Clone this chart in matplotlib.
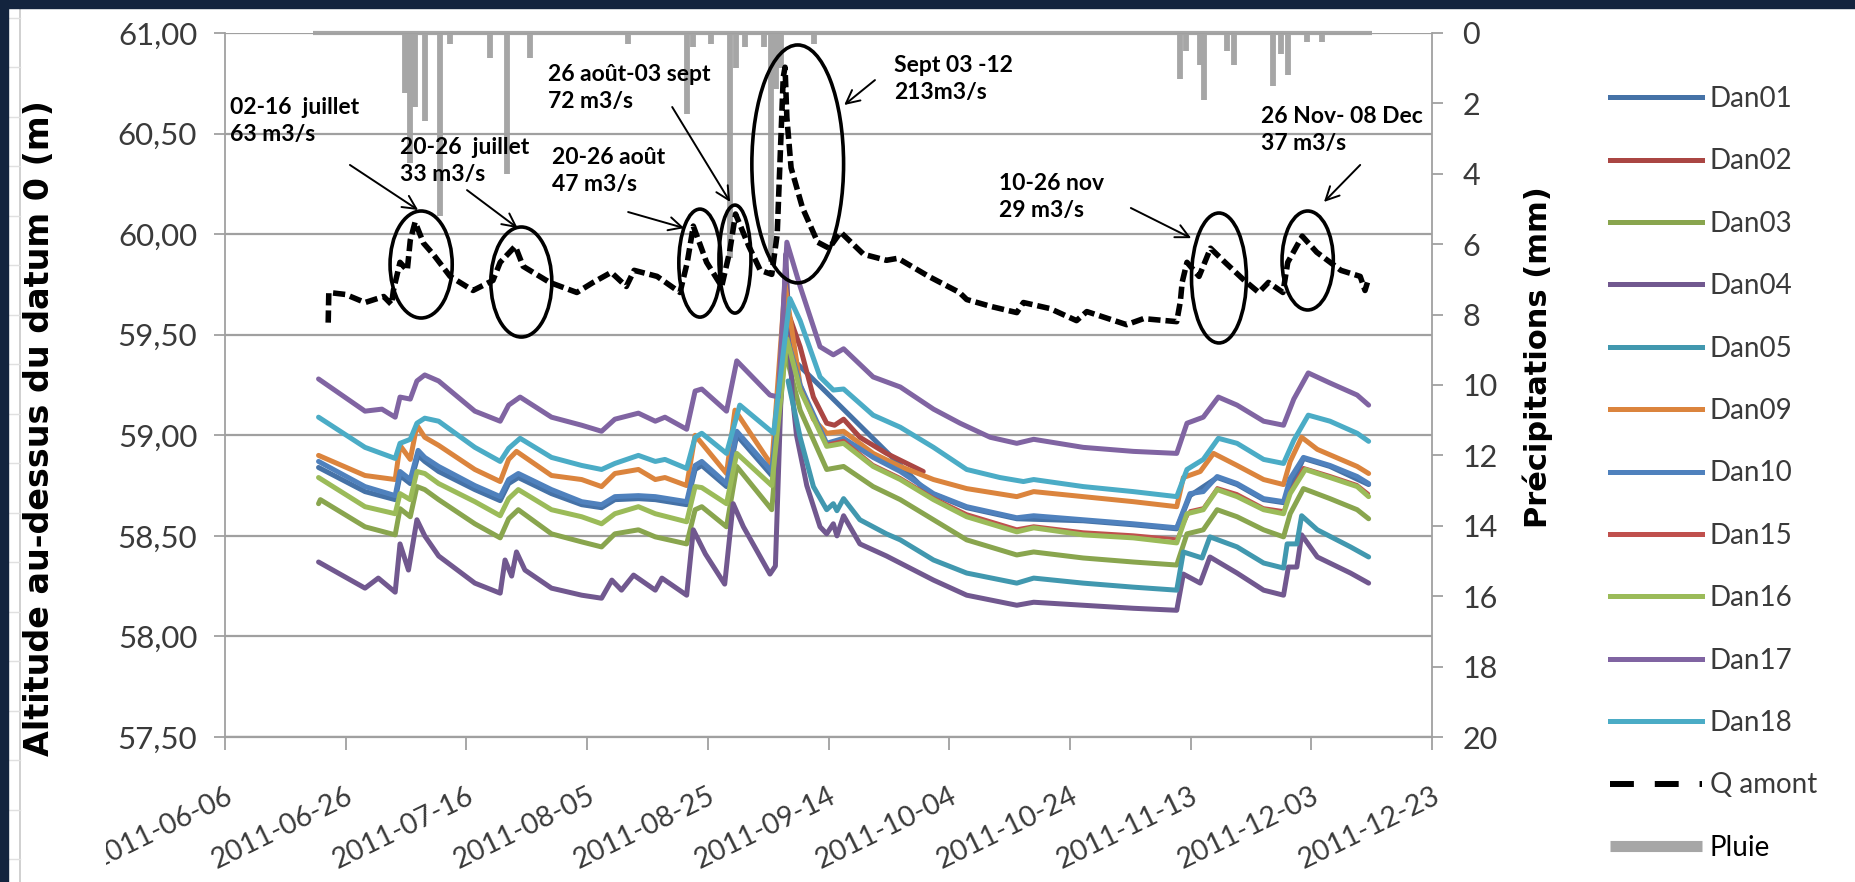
import numpy as np
import pandas as pd
import matplotlib
matplotlib.use('agg')
import matplotlib.pyplot as plt
import matplotlib.dates as mdates
from matplotlib.patches import Ellipse, Rectangle
from matplotlib.lines import Line2D
from matplotlib.ticker import FuncFormatter, MultipleLocator
from matplotlib.transforms import Bbox, TransformedBbox

plt.rcParams['font.family'] = ['Lato', 'DejaVu Sans']

origine = pd.Timestamp('2011-06-06')

# jours depuis le 2011-06-06 / altitude (m)
dan01_j = [15.5, 23.2, 28.2, 29, 30.7, 32, 33.1, 35.4, 41.4, 45.6, 47, 48.6, 54.1, 59.1, 62.4, 64.6,
           68.5, 71.3, 76.5, 77.9, 79, 83.1, 84.8, 90.6, 93, 94.7, 116.3, 122.9, 131.2, 142.2, 150.5,
           157.7, 159.9, 164.4, 167.7, 172.1, 175.4, 178.7, 183.1, 189.5]
dan01_z = [58.84, 58.72, 58.68, 58.80, 58.76, 58.90, 58.87, 58.82, 58.73, 58.675, 58.76, 58.79, 58.71,
           58.655, 58.64, 58.68, 58.685, 58.68, 58.655, 58.83, 58.85, 58.745, 59.0, 58.80, 59.55, 59.36,
           58.72, 58.64, 58.585, 58.575, 58.555, 58.535, 58.70, 58.79, 58.755, 58.68, 58.665, 58.885,
           58.845, 58.755]

dan02_j = [93.3, 95.3, 97.5, 99.7, 101, 102.5, 105.2, 109.6, 115.7]
dan02_z = [59.61, 59.44, 59.19, 59.06, 59.05, 59.08, 58.99, 58.91, 58.82]

dan03_j = [15.5, 15.8, 23.2, 28.2, 29, 30.7, 31.8, 33.1, 35.4, 41.4, 45.6, 47, 48.6, 54.1, 59.1, 62.4,
           64.6, 68.5, 71.3, 76.5, 77.9, 79, 83.1, 84.8, 90.6, 92.8, 95.3, 99.7, 102.5, 107.4, 111.9,
           117.4, 122.9, 131.2, 134, 142.2, 150.5, 157.7, 159.4, 162.1, 164.4, 167.7, 172.1, 175.4,
           176.5, 178.7, 183.1, 187.6, 189.5]
dan03_z = [58.66, 58.68, 58.545, 58.505, 58.635, 58.595, 58.745, 58.73, 58.68, 58.56, 58.49, 58.585,
           58.63, 58.51, 58.47, 58.445, 58.51, 58.53, 58.495, 58.46, 58.63, 58.645, 58.545, 58.845,
           58.63, 59.42, 59.125, 58.83, 58.845, 58.745, 58.68, 58.58, 58.48, 58.405, 58.42, 58.39,
           58.37, 58.355, 58.51, 58.53, 58.63, 58.595, 58.53, 58.495, 58.61, 58.735, 58.685, 58.63,
           58.585]

dan04_j = [15.5, 23.2, 25.4, 28.2, 29, 30.4, 31.8, 33.1, 35.4, 41.4, 45.6, 46.4, 47.5, 48.3, 49.7,
           54.1, 59.1, 62.4, 64.1, 65.7, 67.7, 71.3, 72.4, 76.5, 77.6, 79.6, 82.8, 84.2, 85.9, 90.3,
           91.2, 92.9, 94.0, 94.7, 96.4, 98.6, 99.7, 100.8, 101.4, 102.5, 105.2, 109.6, 117.4, 122.9,
           131.2, 134, 142.2, 150.5, 157.7, 158.8, 161.6, 163.2, 167.7, 172.1, 175.4, 176.2, 177.6,
           178.4, 181, 186.5, 189.5]
dan04_z = [58.37, 58.24, 58.29, 58.22, 58.46, 58.33, 58.58, 58.50, 58.40, 58.265, 58.215, 58.38, 58.30,
           58.42, 58.33, 58.24, 58.205, 58.19, 58.28, 58.23, 58.305, 58.23, 58.29, 58.205, 58.53, 58.41,
           58.26, 58.66, 58.545, 58.31, 58.35, 59.90, 59.2, 59.0, 58.75, 58.545, 58.51, 58.56, 58.50,
           58.60, 58.46, 58.40, 58.28, 58.205, 58.155, 58.17, 58.155, 58.14, 58.13, 58.31, 58.265,
           58.395, 58.315, 58.23, 58.205, 58.345, 58.345, 58.505, 58.395, 58.315, 58.265]

dan05_j = [93.3, 95.3, 97.5, 99.7, 100.8, 101.4, 102.5, 105.2, 109.6, 111.9, 117.4, 122.9, 131.2, 134,
           142.2, 150.5, 157.7, 158.8, 161.9, 163.2, 167.7, 172.1, 175.4, 176, 177.6, 178.4, 181, 186.5,
           189.5]
dan05_z = [59.27, 58.99, 58.745, 58.63, 58.66, 58.625, 58.685, 58.58, 58.51, 58.48, 58.38, 58.315,
           58.265, 58.29, 58.265, 58.245, 58.23, 58.42, 58.39, 58.495, 58.445, 58.365, 58.34, 58.46,
           58.46, 58.60, 58.53, 58.445, 58.395]

dan09_j = [15.5, 23.2, 28.2, 29, 30.7, 31.8, 33.1, 35.4, 41.4, 45.6, 47, 48.3, 54.1, 59.1, 62.4, 64.6,
           68.5, 71.3, 72.9, 76.5, 77.9, 79, 83.1, 84.5, 90.6, 92.8, 95.3, 97.5, 99.7, 102.5, 107.4,
           111.9, 117.4, 122.9, 131.2, 134, 142.2, 150.5, 157.7, 158.8, 161.6, 163.8, 167.7, 172.1,
           175.4, 176.5, 178.4, 181, 187.6, 189.5]
dan09_z = [58.90, 58.80, 58.78, 58.95, 58.88, 59.05, 58.99, 58.95, 58.83, 58.77, 58.88, 58.92, 58.80,
           58.78, 58.745, 58.81, 58.83, 58.78, 58.79, 58.75, 59.0, 58.96, 58.81, 59.125, 58.85, 59.75,
           59.25, 59.08, 59.01, 59.02, 58.91, 58.845, 58.78, 58.735, 58.695, 58.72, 58.695, 58.67,
           58.645, 58.79, 58.82, 58.91, 58.85, 58.78, 58.755, 58.87, 58.99, 58.93, 58.845, 58.81]

dan10_j = [15.5, 23.2, 28.2, 29, 30.7, 32, 33.1, 35.4, 41.4, 45.6, 47, 48.6, 54.1, 59.1, 62.4, 64.6,
           68.5, 71.3, 76.5, 77.9, 79, 83.1, 84.8, 90.6, 93, 95.3, 99.7, 102.5, 107.4, 111.9, 117.4,
           122.9, 131.2, 134, 142.2, 150.5, 157.7, 159.9, 162.1, 164.4, 167.7, 172.1, 175.4, 176.5,
           178.7, 183.1, 187.6, 189.5]
dan10_z = [58.87, 58.745, 58.70, 58.82, 58.78, 58.925, 58.89, 58.845, 58.75, 58.695, 58.78, 58.81,
           58.73, 58.67, 58.655, 58.695, 58.70, 58.695, 58.67, 58.85, 58.87, 58.76, 59.02, 58.82, 59.50,
           59.25, 58.96, 58.985, 58.89, 58.82, 58.71, 58.645, 58.59, 58.60, 58.58, 58.56, 58.54, 58.71,
           58.72, 58.795, 58.76, 58.685, 58.67, 58.785, 58.89, 58.85, 58.795, 58.76]

dan15_j = [93.1, 95.3, 99.7, 102.5, 107.4, 111.9, 117.4, 122.9, 131.2, 134, 142.2, 150.5, 157.7, 159.9,
           162.1, 164.4, 167.7, 172.1, 175.4, 176.5, 178.7, 183.1, 187.6, 189.5]
dan15_z = [59.5, 59.24, 58.955, 58.975, 58.855, 58.79, 58.69, 58.61, 58.535, 58.55, 58.52, 58.505,
           58.485, 58.625, 58.64, 58.74, 58.71, 58.64, 58.625, 58.72, 58.84, 58.80, 58.755, 58.71]

dan16_j = [15.5, 23.2, 28.2, 29, 30.7, 31.8, 33.1, 35.4, 41.4, 45.6, 47, 48.6, 54.1, 59.1, 62.4, 64.6,
           68.5, 71.3, 76.5, 77.9, 79, 83.1, 84.8, 90.6, 93.1, 95.3, 99.7, 102.5, 107.4, 111.9, 117.4,
           122.9, 131.2, 134, 142.2, 150.5, 157.7, 159.4, 162.1, 164.4, 167.7, 172.1, 175.4, 176.5,
           179, 183.1, 187.6, 189.5]
dan16_z = [58.79, 58.645, 58.61, 58.71, 58.68, 58.82, 58.81, 58.76, 58.67, 58.60, 58.685, 58.73, 58.63,
           58.595, 58.56, 58.61, 58.645, 58.61, 58.57, 58.745, 58.74, 58.66, 58.91, 58.75, 59.48, 59.225,
           58.945, 58.96, 58.845, 58.78, 58.68, 58.595, 58.52, 58.54, 58.505, 58.49, 58.465, 58.61,
           58.63, 58.73, 58.695, 58.63, 58.61, 58.71, 58.83, 58.79, 58.745, 58.695]

dan17_j = [15.5, 23.2, 26, 28.2, 29, 30.7, 31.8, 33.1, 35.4, 41.4, 45.6, 47, 48.9, 54.1, 59.1, 62.4,
           64.6, 68.5, 71.3, 72.9, 76.5, 77.9, 79, 83.1, 84.8, 90.3, 91.7, 93.1, 95.3, 98.6, 100.8,
           102.5, 107.4, 111.9, 117.4, 121.8, 126.8, 131.2, 134, 142.2, 150.5, 157.7, 159.4, 162.1,
           164.6, 167.7, 172.1, 175.4, 177.1, 179.5, 183.1, 187.6, 189.5]
dan17_z = [59.28, 59.12, 59.13, 59.09, 59.19, 59.18, 59.27, 59.30, 59.27, 59.12, 59.07, 59.15, 59.19,
           59.09, 59.05, 59.02, 59.08, 59.11, 59.07, 59.09, 59.03, 59.22, 59.23, 59.12, 59.37, 59.20,
           59.19, 59.96, 59.74, 59.44, 59.40, 59.43, 59.29, 59.24, 59.13, 59.06, 58.99, 58.96, 58.98,
           58.94, 58.92, 58.91, 59.06, 59.09, 59.19, 59.15, 59.07, 59.05, 59.18, 59.31, 59.26, 59.20,
           59.15]

dan18_j = [15.5, 23.2, 28.2, 29, 30.7, 31.8, 33.1, 35.4, 41.4, 45.6, 47, 48.9, 54.1, 59.1, 62.4, 64.6,
           68.5, 71.3, 72.9, 76.5, 77.9, 79, 83.1, 85.3, 90.9, 93.6, 95.3, 98.6, 100.8, 102.5, 107.4,
           111.9, 117.4, 122.9, 128.4, 132.3, 134, 142.2, 150.5, 157.7, 159.4, 162.1, 164.6, 167.7,
           172.1, 175.4, 177.1, 179.5, 183.1, 187.6, 189.5]
dan18_z = [59.09, 58.94, 58.885, 58.96, 58.98, 59.06, 59.085, 59.07, 58.94, 58.87, 58.935, 58.985,
           58.89, 58.85, 58.83, 58.86, 58.90, 58.87, 58.88, 58.835, 58.99, 59.01, 58.91, 59.15, 59.01,
           59.68, 59.57, 59.29, 59.225, 59.23, 59.10, 59.04, 58.94, 58.83, 58.79, 58.77, 58.78, 58.745,
           58.72, 58.695, 58.83, 58.88, 58.985, 58.96, 58.88, 58.86, 58.975, 59.10, 59.07, 59.01, 58.97]

# Q amont (échelle de gauche)
q_j = [17.1, 17.2, 20, 23.2, 26.3, 27.6, 27.9, 29, 30.2, 30.7, 31.5, 32.9, 34.5, 37.3, 41.1, 44.4,
       45.6, 48.1, 49.4, 53.8, 58.3, 61, 64, 66.5, 67.8, 71.6, 75.4, 76.6, 77.6, 79.8, 82.3, 83.6,
       84.6, 86.8, 88.7, 90.6, 91.5, 92.5, 92.8, 93.1, 93.8, 95.7, 98.2, 100.1, 102, 105.8, 109.6,
       111.5, 116.6, 121.7, 122.9, 127, 131.2, 132.3, 136.7, 141.1, 142.8, 149.4, 152.2, 157.7,
       158.3, 158.6, 159.4, 161.4, 163.3, 165.7, 168.9, 171.3, 172.9, 175.3, 176.1, 178.5, 180.9,
       184.9, 188.1, 188.9, 189.3]
q_z = [59.56, 59.71, 59.70, 59.66, 59.69, 59.65, 59.72, 59.86, 59.82, 59.97, 60.06, 59.955, 59.90,
       59.79, 59.72, 59.77, 59.86, 59.94, 59.84, 59.76, 59.71, 59.76, 59.81, 59.74, 59.82, 59.79,
       59.71, 59.86, 60.04, 59.86, 59.74, 59.91, 60.10, 59.94, 59.82, 59.80, 60.0, 60.78, 60.83,
       60.58, 60.33, 60.13, 59.96, 59.93, 60.01, 59.90, 59.87, 59.88, 59.79, 59.71, 59.675, 59.64,
       59.61, 59.66, 59.63, 59.57, 59.615, 59.55, 59.58, 59.565, 59.665, 59.76, 59.86, 59.79, 59.93,
       59.86, 59.77, 59.71, 59.76, 59.71, 59.86, 59.99, 59.91, 59.82, 59.79, 59.72, 59.76]

# Pluie (mm, échelle de droite inversée)
pluie_j = [29.8, 30.7, 31.5, 33.1, 35.6, 37.3, 43.9, 46.8, 50.6, 66.8, 76.6, 77.6, 80.5, 83.6, 84.6,
           86.2, 89.3, 90.5, 91.3, 92.2, 97.6, 158.2, 159.2, 161.6, 162.2, 166.1, 167.2, 173.7, 174.9,
           176.1, 179.3, 181.7]
pluie_mm = [1.7, 3.7, 2.1, 2.5, 5.2, 0.3, 0.7, 4.0, 0.7, 0.3, 2.3, 0.4, 0.3, 6.4, 1.0, 0.4, 0.4,
            6.5, 1.6, 1.0, 0.3, 1.3, 0.5, 0.9, 1.9, 0.5, 0.9, 1.5, 0.6, 1.2, 0.25, 0.25]
pluie_debut, pluie_fin = 14.5, 190

noms = ['Dan01', 'Dan02', 'Dan03', 'Dan04', 'Dan05', 'Dan09', 'Dan10', 'Dan15', 'Dan16', 'Dan17', 'Dan18']
jours = [dan01_j, dan02_j, dan03_j, dan04_j, dan05_j, dan09_j, dan10_j, dan15_j, dan16_j, dan17_j, dan18_j]
niveaux = [dan01_z, dan02_z, dan03_z, dan04_z, dan05_z, dan09_z, dan10_z, dan15_z, dan16_z, dan17_z, dan18_z]
couleurs = ['#4572A7', '#AA4643', '#89A54E', '#71588F', '#4198AF', '#DB843D',
            '#4F81BD', '#C0504D', '#9BBB59', '#8064A2', '#4BACC6']

# episodes de crue : texte, position du texte, fleche (queue, tete), ellipse (centre, largeur, hauteur)
episodes = [
    ('02-16  juillet\n63 m3/s', (0.8, 60.68), (20.7, 60.344), (32.0, 60.12), (32.5, 59.849), 10.3, 0.532),
    ('20-26  juillet\n33 m3/s', (29.0, 60.485), (40.1, 60.219), (48.5, 60.03), (49.1, 59.762), 10.1, 0.547),
    ('20-26 août\n47 m3/s', (54.2, 60.435), (66.8, 60.11), (76.1, 60.03), (78.7, 59.856), 7.0, 0.537),
    ('26 août-03 sept\n72 m3/s', (53.5, 60.845), (74.1, 60.632), (83.7, 60.16), (84.5, 59.876), 5.3, 0.537),
    ('Sept 03 -12\n213m3/s', (110.9, 60.89), (107.7, 60.766), (102.6, 60.642), (94.9, 60.349), 15.2, 1.183),
    ('10-26 nov\n29 m3/s', (128.3, 60.305), (150.1, 60.13), (160.1, 59.98), (164.7, 59.782), 9.1, 0.646),
    ('26 Nov- 08 Dec\n37 m3/s', (171.7, 60.635), (188.1, 60.344), (182.1, 60.16), (179.4, 59.869), 8.5, 0.492),
]

t0 = mdates.date2num(origine)


def t(j):
    return t0 + np.asarray(j, dtype=float)


gris = '#A0A0A0'
texte = '#3a3a3a'

fig = plt.figure(figsize=(18.55, 8.82), dpi=100)
ax = fig.add_axes([225 / 1855, 1 - 737 / 882, (1432 - 225) / 1855, (737 - 33) / 882])
ax2 = ax.twinx()
ax.set_zorder(ax2.get_zorder() + 1)
ax.patch.set_visible(False)

# pluie
ax2.vlines(t(pluie_j), 0, pluie_mm, color='#A6A6A6', lw=4.2)
ax2.hlines(0, t(pluie_debut), t(pluie_fin), color='#A6A6A6', lw=3, clip_on=False)
ax2.set_ylim(20, 0)
ax2.yaxis.set_major_locator(MultipleLocator(2))

for nom, j, z, c in zip(noms, jours, niveaux, couleurs):
    lw = 2.2 if nom == 'Dan15' else 3.6
    ax.plot(t(j), z, color=c, lw=lw, solid_joinstyle='round', solid_capstyle='round')

ax.plot(t(q_j), q_z, color='black', lw=4, dashes=(2.2, 0.9))

for txt, pos, queue, tete, centre, larg, haut in episodes:
    ax.add_patch(Ellipse((t0 + centre[0], centre[1]), larg, haut, fill=False, ec='black', lw=2.6, zorder=5))
    ax.annotate('', xy=(t0 + tete[0], tete[1]), xytext=(t0 + queue[0], queue[1]),
                arrowprops=dict(arrowstyle='->', lw=1.4, color='black', mutation_scale=24,
                                shrinkA=0, shrinkB=0), zorder=6)
    ax.text(t0 + pos[0], pos[1], txt, fontsize=16.5, fontweight='bold', color='black',
            ha='left', va='top', linespacing=1.35, zorder=6)

ax.set_xlim(t(0), t(200))
ax.set_ylim(57.5, 61)
ax.set_xticks(t(np.arange(0, 201, 20)))
ax.xaxis.set_major_formatter(mdates.DateFormatter('%Y-%m-%d'))
ax.yaxis.set_major_locator(MultipleLocator(0.5))
ax.yaxis.set_major_formatter(FuncFormatter(lambda v, p: f'{v:.2f}'.replace('.', ',')))
ax.yaxis.grid(True, color=gris, lw=1.6)
ax.set_axisbelow(True)

for s in ['top', 'right']:
    ax.spines[s].set_visible(False)
ax2.spines['top'].set_visible(False)
ax2.spines['left'].set_visible(False)
ax2.spines['bottom'].set_visible(False)
ax.spines['left'].set_color(gris)
ax.spines['left'].set_linewidth(1.3)
ax.spines['bottom'].set_color(gris)
ax.spines['bottom'].set_linewidth(1.6)
ax2.spines['right'].set_color(gris)
ax2.spines['right'].set_linewidth(1.3)

ax.tick_params(axis='y', direction='out', length=8, width=1.3, color=gris, labelcolor=texte,
               labelsize=22.5, pad=12)
ax2.tick_params(axis='y', direction='out', length=8, width=1.3, color=gris, labelcolor=texte,
                labelsize=22, pad=14)
ax.tick_params(axis='x', direction='out', length=9, width=1.3, color=gris, labelcolor=texte,
               labelsize=20.5, pad=24)

fig.text(40 / 1855, 1 - 428 / 882, 'Altitude au-dessus du datum 0 (m)', rotation=90, ha='center',
         va='center', fontsize=24, fontweight='bold', family='DejaVu Sans')
fig.text(1538 / 1855, 1 - 357 / 882, 'Précipitations (mm)', rotation=90, ha='center',
         va='center', fontsize=22, fontweight='bold', family='DejaVu Sans')

# legende
poignees = [Line2D([], [], color=c, lw=3.6) for c in couleurs]
poignees.append(Line2D([], [], color='black', lw=4.3, dashes=(4, 3.5)))
poignees.append(Line2D([], [], color='#A6A6A6', lw=8, solid_capstyle='butt'))
leg = fig.legend(poignees, noms + ['Q amont', 'Pluie'], loc='upper left',
                 bbox_to_anchor=(1610 / 1855, 1 - 86 / 882), frameon=False, fontsize=20,
                 handlelength=3.3, handletextpad=0.3, labelspacing=1.31, borderpad=0,
                 borderaxespad=0)
for txt in leg.get_texts():
    txt.set_color(texte)
leg.get_texts()[-1].set_color('black')

# cadre de la capture
fig.patches.append(Rectangle((0, 1 - 8 / 882), 1, 8 / 882, transform=fig.transFigure,
                             color='#13243E', zorder=10))
fig.patches.append(Rectangle((0, 0), 8 / 1855, 1, transform=fig.transFigure,
                             color='#13243E', zorder=10))
fig.add_artist(Line2D([20 / 1855, 20 / 1855], [0, 1 - 8 / 882], transform=fig.transFigure,
                      color='#C8C8C8', lw=1.2))
for yp in np.arange(17.5, 882, 49.5):
    fig.add_artist(Line2D([8 / 1855, 20 / 1855], [1 - yp / 882] * 2, transform=fig.transFigure,
                          color='#E0E0E0', lw=1))

fig.canvas.draw()
coupe = TransformedBbox(Bbox([[106 / 1855, 0], [1, 1]]), fig.transFigure)
for i, tick in enumerate(ax.xaxis.get_major_ticks()):
    lab = tick.label1
    lab.set_rotation(26)
    lab.set_ha('right')
    lab.set_va('top')
    lab.set_rotation_mode('anchor')
    if i == 0:
        lab.set_clip_box(coupe)
        lab.set_clip_on(True)

fig.savefig('out.png', dpi=100)
